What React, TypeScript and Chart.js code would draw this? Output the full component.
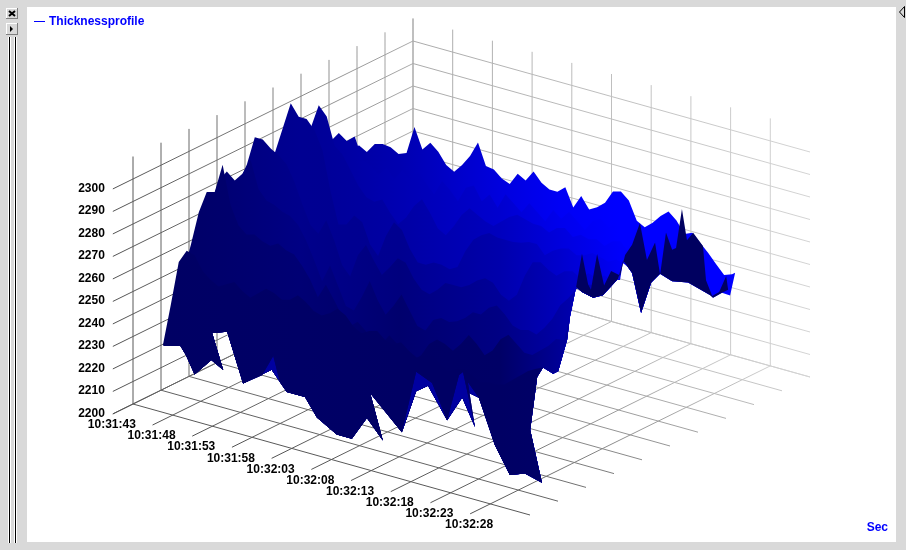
import React, { useEffect, useRef } from "react";
import { Chart, registerables } from "chart.js";

Chart.register(...registerables);

const seriesName = "Thicknessprofile";
const xAxisTitle = "Sec";
const thicknessTicks = [2200, 2210, 2220, 2230, 2240, 2250, 2260, 2270, 2280, 2290, 2300];
const timeTicks = ["10:31:43", "10:31:48", "10:31:53", "10:31:58", "10:32:03", "10:32:08", "10:32:13", "10:32:18", "10:32:23", "10:32:28"];

// seconds after 10:31:43 of the samples in every row: 2, 3, ... 49
const firstSecond = 2;

const row7 = [2271,2269,2273.5,2274.5,2274,2272,2273.5,2286,2277,2281,2278,2273,2271,2275,2280,2287,2277.5,2277,2274,2272.5,2278,2276,2281,2277,2275,2275,2278,2270,2276,2271,2273,2276,2282,2283,2280,2272,2270,2273,2277,2280,2277,2272,2273.5,2270,2266.5,2262.5,2258.7,2260];
const row6 = [2279,2283.5,2281,2284,2274.5,2273,2270,2274,2270,2275,2271,2276,2272,2268,2275,2272,2268,2275,2277,2271,2275,2270,2277,2274,2271,2276,2273,2270,2276,2273,2277,2274,2271,2276,2278,2275,2279,2275,2272,2271,2272,2274,2275,2272,2270,2270,2268,2266];
const row5 = [2292,2292,2303,2299,2287,2284,2278,2272,2268,2267,2269,2264,2260,2264,2270,2274,2269,2263,2261,2266,2272,2276,2274,2272,2271,2274,2277,2279,2278,2277,2277,2275,2278,2279,2276,2278,2277,2278,2276,2279,2280,2276,2272,2274,2275,2274,2272,2270];
const row4 = [2286,2298,2310,2305,2305,2301,2293,2276,2262,2263,2268,2266,2257,2253,2263,2270,2267.5,2260,2255,2255,2257,2257,2256,2258,2266,2272,2275,2277,2276,2276,2276,2276.6,2278,2278,2274,2277,2279,2280,2278,2279,2281,2280,2279,2281,2280,2278,2280,2279];
const row3 = [2287,2300,2300,2297,2295,2292,2285,2276,2268,2265,2272,2264,2254,2250,2260.5,2266,2260,2254.6,2259,2264,2263,2257,2253,2252,2255,2259,2259,2259,2261,2264,2266,2265,2260.6,2259,2262.6,2272,2279,2280,2277.6,2276,2279,2280,2278,2281,2280,2282,2281,2282];
const row2 = [2286,2291,2288,2292,2299,2287,2283,2282,2280,2279,2276,2270,2262.4,2254,2262,2254,2246,2245,2252,2260,2252.5,2247,2252,2258,2252,2246,2245,2250.6,2252.5,2251.7,2253,2255.5,2259,2259,2263,2265,2262,2258,2257,2258,2257,2261,2266,2273,2277,2282,2285,2286];
const row1 = [2263.5,2279,2289,2290,2303,2286,2278,2275,2276,2274,2273,2275,2273,2272,2268,2263,2256,2262.5,2257,2251,2247,2250,2247,2243,2243,2248,2245,2241,2240,2243,2249,2252,2251,2249,2253,2258,2255,2251,2254,2260,2263,2260,2257,2257,2260,2263,2267,2267.6];
const row0 = [2225,2244,2264,2270,2269,2263,2260,2258,2260,2262,2259,2257,2260,2263,2262,2260,2261,2264,2262,2259,2258,2260,2263,2261,2257,2255,2257,2258,2255,2254,2256,2253,2251,2253,2254,2251,2249,2251,2252,2250,2248,2249,2249,2250,2253,2256,2259,2261];
const rows = [row0, row1, row2, row3, row4, row5, row6, row7];

// lower rim of the front row
const frontEdgeSeconds = [2.1,4.2,4.9,6,8.1,9.6,8.2,10.1,12.1,14.5,15.9,16.75,17.6,19.9,21.4,23.9,25.8,27.7,29.7,28.1,32.1,33.9,35.9,37.8,39.3,39.8,41.3,40.4,41.8,43.8,45.7,47.6];
const frontEdgeThickness = [2225,2227,2223.5,2216,2224.5,2221.5,2236.6,2239,2218,2224,2234,2223,2219.6,2219.7,2212,2207,2207,2218,2210,2229.5,2216,2244.7,2241.7,2227,2248.6,2250.4,2227.5,2246.6,2241,2222,2210.5,2213];
// lower rim of the rows behind it, where they hang below the front row
const rearEdgeSeconds = [2.1,4.2,4.9,6,8.1,9.6,8.2,10.1,12.1,15.7,17.6,19.9,21.4,23.9,25.8,27.7,29.7,28.1,32.1,33.9,35.4,37.8,39.7,41.3,40.4,41.8,43.8,45.7,47.6];
const rearEdgeThickness = [2225,2227,2223.5,2216,2224.5,2221.5,2236.6,2239,2218,2227.6,2219.6,2219.7,2212,2207,2207,2218,2210,2229.5,2216,2236,2240,2227,2239,2227.5,2242,2241,2222,2210.5,2213];
// lower rim of the last second, along the depth axis
const sideEdgeDepth = [0.71,0.29,0.54,0.75,1.11,1.29,1.61,1.71,1.93,2.14,2.54,2.89,3.43,3.61,3.93,4.25,4.61,4.93,5.36,5.93,6.71,6.82,7.14,7.43,7.61];
const sideEdgeThickness = [2209,2235,2257,2260,2255,2255,2267,2276.5,2288.5,2285,2280,2279,2283,2290,2282.5,2262.7,2274,2276,2270,2266,2255.6,2253.7,2254,2251,2260];
// upper rim of the dark face of the last second
const tailDepth = [1.93,2.14,2.36,2.46,2.68,2.93,3.18,3.5,3.68,3.93,4.21,4.46,4.75,4.93,5.14,5.36,5.5,5.71,5.89,6.11,6.46,6.57,6.79,7.04,7.29,7.36];
const tailThickness = [2288.5,2302,2287,2284,2298.6,2283,2288,2284,2292,2295,2303,2285,2291,2275.5,2293,2284,2284,2300,2285,2287,2279,2263,2254.7,2255,2260.5,2254];
const lastSecond = 49;

// blue channel of each row across the picture, at the fractions in shadeStops
const shadeStops = [0, 0.2414, 0.4138, 0.5862, 0.6897, 0.7931, 1];
const rowShades = [
  [100, 102, 100, 100, 104, 104, 104],
  [102, 116, 100, 102, 150, 190, 190],
  [102, 132, 109, 132, 165, 205, 205],
  [112, 140, 126, 152, 187, 235, 235],
  [124, 146, 144, 172, 205, 245, 255],
  [136, 150, 164, 190, 221, 250, 255],
  [144, 150, 178, 207, 237, 255, 255],
  [144, 150, 176, 222, 245, 255, 255],
];

const P = { ox: 133, oy: 404, tx: 39.7, ty: 11.1, dx: 28, dy: -13.8, zy: 2.25 };
const project = (sec: number, depth: number, z: number) => {
  const t = sec / 5;
  return { x: P.ox + P.tx * t + P.dx * depth, y: P.oy + P.ty * t + P.dy * depth - P.zy * (z - 2200) };
};
const blue = (b: number) => `rgb(0,0,${b})`;
const greyAt = (sec: number, depth: number) => {
  const t = sec / 5;
  const g = Math.min(225, Math.round(0x58 + 8.2 * depth + 0.42 * t * depth));
  return `rgb(${g},${g},${g})`;
};

const FONT = 'bold 12px "Liberation Sans", Arial, sans-serif';

function bevel(c: CanvasRenderingContext2D, x: number, y: number, w: number, h: number) {
  c.fillStyle = "#d9d9d9"; c.fillRect(x, y, w, h);
  c.fillStyle = "#ffffff"; c.fillRect(x, y, w, 1); c.fillRect(x, y, 1, h);
  c.fillStyle = "#808080"; c.fillRect(x, y + h - 1, w, 1); c.fillRect(x + w - 1, y, 1, h);
}

const frame = {
  id: "frame",
  beforeDraw(chart: any) {
    const c: CanvasRenderingContext2D = chart.ctx;
    c.save();
    c.fillStyle = "#d9d9d9"; c.fillRect(0, 0, 906, 550);
    c.fillStyle = "#ffffff"; c.fillRect(27, 7, 869, 535);
    bevel(c, 6, 8, 12, 11);
    bevel(c, 6, 23, 12, 12);
    c.strokeStyle = "#000"; c.lineWidth = 2;
    c.beginPath(); c.moveTo(9, 11); c.lineTo(15, 16); c.moveTo(15, 11); c.lineTo(9, 16); c.stroke();
    c.fillStyle = "#000";
    c.beginPath(); c.moveTo(10, 26); c.lineTo(13, 29); c.lineTo(10, 32); c.closePath(); c.fill();
    for (const x of [8, 14]) {
      c.fillStyle = "#fff"; c.fillRect(x, 37, 1, 506);
      c.fillStyle = "#000"; c.fillRect(x + 1, 37, 1, 506);
      c.fillStyle = "#fff"; c.fillRect(x + 2, 37, 1, 506);
    }
    c.strokeStyle = "#000"; c.lineWidth = 1;
    c.beginPath(); c.moveTo(904.5, 6.5); c.lineTo(899.5, 12); c.lineTo(904.5, 17.5); c.closePath(); c.stroke();
    c.restore();
  },
  afterDraw(chart: any) {
    const c: CanvasRenderingContext2D = chart.ctx;
    const xs = chart.scales.x, ys = chart.scales.y;
    c.save();
    c.font = FONT; c.textBaseline = "middle"; c.fillStyle = "#000";
    c.textAlign = "right";
    thicknessTicks.forEach((v) => {
      const p = project(0, -0.72, v);
      c.fillText(String(v), xs.getPixelForValue(p.x - 8), ys.getPixelForValue(p.y - 0.5));
    });
    c.textAlign = "center";
    timeTicks.forEach((label, i) => {
      const p = project(i * 5, -0.72, 2200);
      c.fillText(label, xs.getPixelForValue(p.x - 1), ys.getPixelForValue(p.y + 11));
    });
    c.fillStyle = "#0000ff"; c.strokeStyle = "#0000ff"; c.lineWidth = 1;
    c.textAlign = "left";
    c.fillText(seriesName, 49, 22);
    c.beginPath(); c.moveTo(34, 21.5); c.lineTo(45, 21.5); c.stroke();
    c.textAlign = "right";
    c.fillText(xAxisTitle, 888, 528);
    c.restore();
  },
};

export default function App() {
  const ref = useRef<HTMLCanvasElement>(null);
  useEffect(() => {
    const canvas = ref.current!;
    const ctx = canvas.getContext("2d")!;
    const drawOrder: any[] = [];

    const greyLine = (a: [number, number, number], b: [number, number, number]) => {
      const pa = project(...a), pb = project(...b);
      const g = ctx.createLinearGradient(pa.x, pa.y, pb.x, pb.y);
      g.addColorStop(0, greyAt(a[0], a[1]));
      g.addColorStop(1, greyAt(b[0], b[1]));
      drawOrder.push({
        data: [pa, pb], showLine: true, fill: false, pointRadius: 0,
        borderColor: g, borderWidth: 1, tension: 0,
      });
    };
    for (let k = 0; k < 10; k++) {
      greyLine([k * 5, -0.72, 2200], [k * 5, 10, 2200]);
      greyLine([k * 5, 10, 2200], [k * 5, 10, 2310]);
    }
    for (let j = 0; j <= 10; j++) {
      greyLine([0, j, 2200], [50, j, 2200]);
      greyLine([0, j, 2200], [0, j, 2310]);
    }
    thicknessTicks.forEach((v) => {
      greyLine([0, -0.72, v], [0, 10, v]);
      greyLine([0, 10, v], [50, 10, v]);
    });

    const shape = (data: any[], color: any) => drawOrder.push({
      data, showLine: true, fill: "shape", pointRadius: 0, borderWidth: 0,
      borderColor: "transparent", backgroundColor: color, tension: 0,
    });

    for (let i = rows.length - 1; i >= 0; i--) {
      const d = i + 0.5;
      if (i === 0) {
        // the rows behind show through where they hang below the front rim
        const hanging = rearEdgeSeconds.map((s, n) => project(s, 0.5, rearEdgeThickness[n]));
        for (let n = frontEdgeSeconds.length - 1; n >= 0; n--) hanging.push(project(frontEdgeSeconds[n], 0.5, frontEdgeThickness[n]));
        shape(hanging, blue(0xa0));
      }
      const pts = rows[i].map((z, n) => project(firstSecond + n, d, z));
      let last = 0;
      sideEdgeDepth.forEach((sd, n) => { if (sd <= d + 0.3) last = n; });
      for (let n = last; n >= 0; n--) pts.push(project(lastSecond, sideEdgeDepth[n], sideEdgeThickness[n]));
      const es = i === 0 ? frontEdgeSeconds : rearEdgeSeconds;
      const ez = i === 0 ? frontEdgeThickness : rearEdgeThickness;
      for (let n = es.length - 1; n >= 0; n--) pts.push(project(es[n], 0.5, ez[n]));
      const g = ctx.createLinearGradient(160, 0, 740, 0);
      rowShades[i].forEach((b, n) => g.addColorStop(shadeStops[n], blue(b)));
      shape(pts, g);
      if (i === 1) {
        const tail = tailDepth.map((td, n) => project(lastSecond, td, tailThickness[n]));
        for (let n = sideEdgeDepth.length - 1; n >= 0; n--) {
          if (sideEdgeDepth[n] >= tailDepth[0] && sideEdgeDepth[n] <= 7.36) tail.push(project(lastSecond, sideEdgeDepth[n], sideEdgeThickness[n]));
        }
        shape(tail, blue(0x60));
      }
    }

    const chart = new Chart(canvas, {
      type: "scatter",
      data: { datasets: drawOrder.slice().reverse() },
      options: {
        animation: false,
        responsive: false,
        devicePixelRatio: 1,
        layout: { padding: 0 },
        events: [],
        scales: {
          x: { type: "linear", min: 0, max: 906, display: false },
          y: { type: "linear", min: 0, max: 550, reverse: true, display: false },
        },
        plugins: { legend: { display: false }, tooltip: { enabled: false }, title: { display: false } },
      },
      plugins: [frame],
    } as any);
    return () => chart.destroy();
  }, []);
  return (
    <div style={{ position: "fixed", left: 0, top: 0, width: 906, height: 550 }}>
      <canvas ref={ref} width={906} height={550} style={{ display: "block", width: 906, height: 550 }} />
    </div>
  );
}
